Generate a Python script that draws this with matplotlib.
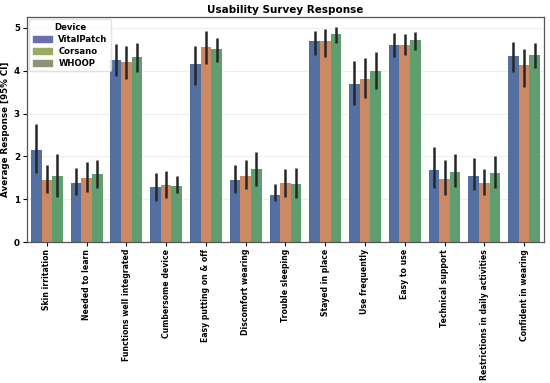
import matplotlib.pyplot as plt
from matplotlib.patches import Patch
import numpy as np

# Survey items
categories = ['Skin irritation', 'Needed to learn', 'Functions well integrated',
              'Cumbersome device', 'Easy putting on & off', 'Discomfort wearing',
              'Trouble sleeping', 'Stayed in place', 'Use frequently', 'Easy to use',
              'Technical support', 'Restrictions in daily activities',
              'Confident in wearing']
devices = ['VitalPatch', 'Corsano', 'WHOOP']

# mean responses
vitalpatch = [2.16, 1.37, 4.25, 1.29, 4.17, 1.46, 1.11, 4.70, 3.68, 4.60, 1.68, 1.55, 4.35]
corsano = [1.46, 1.50, 4.21, 1.33, 4.56, 1.55, 1.37, 4.70, 3.82, 4.60, 1.47, 1.38, 4.14]
whoop = [1.54, 1.58, 4.33, 1.32, 4.50, 1.70, 1.36, 4.87, 4.00, 4.71, 1.64, 1.61, 4.38]

# 95% CI bounds
vitalpatch_lo = [1.62, 1.10, 3.89, 0.96, 3.67, 1.14, 0.97, 4.37, 3.20, 4.33, 1.27, 1.21, 3.98]
vitalpatch_hi = [2.75, 1.74, 4.63, 1.62, 4.59, 1.80, 1.36, 4.94, 4.24, 4.89, 2.23, 1.97, 4.67]
corsano_lo = [1.14, 1.18, 3.81, 1.02, 4.17, 1.23, 1.06, 4.32, 3.37, 4.37, 1.10, 1.10, 3.63]
corsano_hi = [1.80, 1.88, 4.59, 1.66, 4.93, 1.92, 1.70, 4.98, 4.29, 4.85, 1.92, 1.70, 4.50]
whoop_lo = [1.06, 1.27, 3.98, 1.14, 4.20, 1.31, 1.04, 4.66, 3.57, 4.49, 1.29, 1.26, 4.06]
whoop_hi = [2.06, 1.92, 4.64, 1.55, 4.77, 2.10, 1.72, 5.03, 4.43, 4.90, 2.06, 2.01, 4.66]

means = [vitalpatch, corsano, whoop]
lows = [vitalpatch_lo, corsano_lo, whoop_lo]
highs = [vitalpatch_hi, corsano_hi, whoop_hi]

bar_colors = ['#5470a0', '#cc8963', '#5f9e6e']
legend_colors = ['#6a6faf', '#9aaa60', '#8c9478']

plt.rcParams['font.family'] = 'DejaVu Sans'
plt.rcParams['font.weight'] = 'bold'

fig = plt.figure(figsize=(5.5, 3.83), dpi=100)
ax = fig.add_axes([0.049, 0.368, 0.940, 0.588])

x = np.arange(len(categories))
w = 0.8 / 3
for i in range(3):
    m = np.array(means[i])
    err = [m - np.array(lows[i]), np.array(highs[i]) - m]
    ax.bar(x + (i - 1) * w, m, width=w, color=bar_colors[i], zorder=2)
    ax.errorbar(x + (i - 1) * w, m, yerr=err, fmt='none', ecolor='#262626',
                elinewidth=1.8, capsize=0, zorder=3)

ax.set_xlim(-0.5, len(categories) - 0.5)
ax.set_ylim(0, 5.26)
ax.set_xticks(x)
ax.set_xticklabels(categories, rotation=90, fontsize=5.6, fontweight='bold')
ax.set_yticks(range(6))
ax.tick_params(axis='y', labelsize=6.3, length=3, width=0.8, pad=2)
ax.tick_params(axis='x', length=3, width=0.8, pad=2)
for lbl in ax.get_yticklabels():
    lbl.set_fontweight('bold')
ax.grid(axis='y', color='#eef0f0', linewidth=0.8, zorder=0)
for s in ax.spines.values():
    s.set_color('#555555')
    s.set_linewidth(0.9)

ax.set_ylabel('Average Response [95% CI]', fontsize=6.3, fontweight='bold', labelpad=3)
ax.set_title('Usability Survey Response', fontsize=7.5, fontweight='bold', pad=3)

handles = [Patch(color=c, label=d) for c, d in zip(legend_colors, devices)]
leg = ax.legend(handles=handles, title='Device', loc='upper left',
                title_fontproperties={'weight': 'bold', 'size': 6.1},
                prop={'weight': 'bold', 'size': 6.1}, frameon=True,
                borderaxespad=0.3, handlelength=2.2, labelspacing=0.35)
leg.get_frame().set_edgecolor('#dddddd')

fig.savefig('out.png', dpi=100)
